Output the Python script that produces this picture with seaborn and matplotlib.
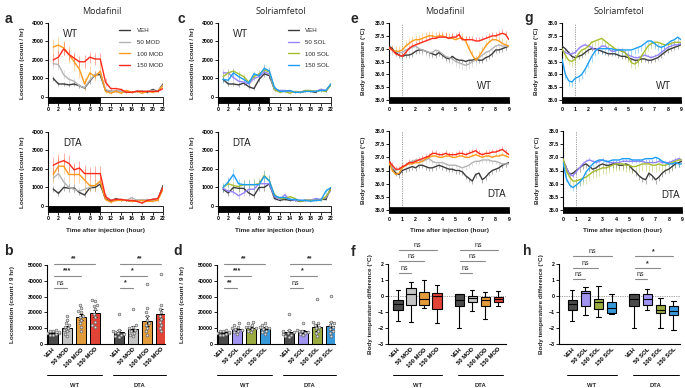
import numpy as np
import pandas as pd
import matplotlib
matplotlib.use("Agg")
import matplotlib.pyplot as plt
import matplotlib.transforms as mtrans
from matplotlib.patches import Rectangle
from matplotlib.lines import Line2D
import seaborn as sns

W, H = 685, 388

# --- 그룹 / 색 ---
MOD_GROUPS = ["VEH", "50 MOD", "100 MOD", "150 MOD"]
SOL_GROUPS = ["VEH", "50 SOL", "100 SOL", "150 SOL"]
MOD_COLORS = ["#3b3b3b", "#b3b3b3", "#ff9a1c", "#ff2a1a"]
SOL_COLORS = ["#3b3b3b", "#9585ff", "#a8bd2d", "#1d9ef5"]
MOD_BOX = ["#4a4a4a", "#c4c4c4", "#ffa11f", "#ff2a1a"]
SOL_BOX = ["#4a4a4a", "#9585ff", "#a8bd2d", "#1d9ef5"]

# --- locomotion (count / hr), hour 1..22 ---
HOURS = list(range(1, 23))
loco_mod_wt = {
    "VEH":     [1000, 700, 700, 650, 700, 600, 480, 850, 1200, 1200, 350, 300, 300, 300, 250, 250, 300, 300, 250, 400, 300, 700],
    "50 MOD":  [1800, 1750, 1200, 950, 850, 600, 500, 900, 1200, 1300, 400, 300, 300, 300, 250, 250, 300, 300, 300, 350, 300, 650],
    "100 MOD": [2700, 2800, 2650, 2300, 1900, 1500, 700, 1300, 1100, 1400, 300, 200, 300, 200, 350, 250, 300, 200, 300, 250, 300, 600],
    "150 MOD": [2000, 2150, 2600, 2300, 2100, 1900, 1900, 2150, 2050, 2050, 800, 450, 450, 400, 250, 250, 300, 300, 300, 300, 300, 450],
}
loco_mod_wt_sem = {
    "VEH":     [150, 120, 100, 100, 120, 100, 90, 150, 180, 180, 60, 40, 40, 40, 30, 30, 40, 40, 40, 60, 50, 120],
    "50 MOD":  [300, 300, 250, 200, 150, 120, 100, 200, 200, 200, 80, 50, 50, 50, 40, 40, 50, 50, 50, 60, 60, 100],
    "100 MOD": [450, 450, 400, 450, 500, 450, 300, 350, 250, 300, 80, 50, 60, 50, 80, 50, 60, 50, 60, 50, 60, 150],
    "150 MOD": [300, 350, 350, 300, 300, 300, 350, 300, 300, 300, 200, 80, 80, 80, 50, 50, 60, 60, 60, 60, 60, 100],
}
loco_mod_dta = {
    "VEH":     [910, 680, 1000, 960, 960, 730, 590, 980, 1000, 1180, 370, 250, 400, 300, 300, 250, 300, 300, 300, 350, 350, 1100],
    "50 MOD":  [1500, 1750, 1300, 1000, 900, 800, 900, 1000, 1100, 1300, 500, 300, 350, 350, 300, 450, 300, 300, 350, 300, 350, 1000],
    "100 MOD": [1700, 2150, 2150, 1700, 1700, 1700, 1400, 1100, 1100, 1350, 350, 200, 300, 300, 300, 250, 250, 300, 250, 250, 300, 900],
    "150 MOD": [2200, 2350, 2450, 2300, 1950, 2050, 1750, 1750, 1750, 1750, 500, 300, 350, 350, 300, 300, 250, 150, 300, 350, 400, 1000],
}
loco_mod_dta_sem = {
    "VEH":     [150, 150, 200, 200, 200, 150, 100, 200, 200, 200, 60, 50, 50, 50, 40, 40, 40, 40, 40, 50, 50, 200],
    "50 MOD":  [300, 300, 250, 250, 200, 200, 200, 250, 250, 250, 100, 60, 60, 60, 60, 80, 60, 60, 60, 60, 60, 200],
    "100 MOD": [400, 450, 450, 400, 500, 450, 600, 300, 300, 350, 80, 60, 60, 60, 60, 60, 60, 60, 60, 60, 60, 200],
    "150 MOD": [450, 450, 400, 450, 350, 400, 450, 350, 400, 400, 150, 80, 80, 80, 60, 60, 60, 60, 60, 60, 80, 200],
}
loco_sol_wt = {
    "VEH":     [950, 700, 700, 650, 750, 550, 450, 950, 1250, 1150, 400, 300, 300, 300, 250, 250, 300, 300, 250, 400, 300, 700],
    "50 SOL":  [1300, 1300, 1050, 850, 800, 700, 1000, 1100, 1350, 1250, 400, 350, 350, 300, 250, 250, 350, 300, 300, 400, 350, 650],
    "100 SOL": [1100, 1300, 1400, 1250, 1100, 800, 1100, 1250, 1450, 1350, 400, 250, 300, 200, 300, 250, 350, 350, 300, 350, 300, 650],
    "150 SOL": [950, 900, 1300, 1100, 950, 750, 1250, 1150, 1550, 1400, 500, 300, 300, 350, 250, 250, 300, 300, 300, 350, 350, 700],
}
loco_sol_wt_sem = {
    "VEH":     [150, 120, 100, 100, 120, 100, 90, 150, 180, 180, 60, 40, 40, 40, 30, 30, 40, 40, 40, 60, 50, 120],
    "50 SOL":  [200, 200, 200, 150, 150, 150, 150, 200, 200, 200, 80, 50, 50, 50, 40, 40, 50, 50, 50, 60, 60, 100],
    "100 SOL": [200, 200, 150, 150, 150, 150, 150, 200, 250, 200, 80, 50, 50, 50, 40, 40, 50, 50, 50, 60, 60, 100],
    "150 SOL": [200, 200, 200, 150, 150, 150, 150, 200, 250, 200, 80, 50, 50, 50, 40, 40, 50, 50, 50, 60, 60, 100],
}
loco_sol_dta = {
    "VEH":     [900, 700, 1000, 950, 950, 700, 550, 1000, 1000, 1200, 400, 300, 350, 300, 300, 250, 300, 300, 300, 350, 350, 1000],
    "50 SOL":  [950, 800, 750, 550, 700, 900, 900, 1200, 1200, 1200, 500, 350, 600, 350, 300, 300, 300, 300, 400, 350, 450, 850],
    "100 SOL": [1000, 1200, 1100, 1050, 1150, 1150, 1150, 1200, 1650, 1350, 600, 400, 400, 500, 400, 250, 300, 300, 300, 300, 500, 900],
    "150 SOL": [1000, 1300, 1700, 1200, 1150, 1150, 1150, 1150, 1600, 1350, 550, 450, 450, 350, 350, 300, 300, 250, 300, 300, 800, 1000],
}
loco_sol_dta_sem = {
    "VEH":     [150, 150, 200, 200, 200, 150, 100, 200, 200, 200, 60, 50, 50, 50, 40, 40, 40, 40, 40, 50, 50, 200],
    "50 SOL":  [200, 150, 150, 150, 150, 200, 200, 200, 200, 200, 80, 60, 100, 60, 60, 60, 60, 60, 60, 60, 80, 150],
    "100 SOL": [250, 250, 250, 250, 300, 300, 350, 300, 300, 300, 100, 80, 80, 100, 80, 60, 60, 60, 60, 60, 100, 150],
    "150 SOL": [250, 250, 300, 250, 250, 250, 250, 250, 300, 300, 100, 80, 80, 80, 60, 60, 60, 60, 60, 60, 150, 150],
}

# --- body temperature (°C), 0..9 h every 15 min ---
TEMP_T = np.arange(0, 9.01, 0.25)
temp_mod_wt = {
    "VEH": [37.1, 37.0, 36.85, 36.75, 36.7, 36.75, 36.75, 36.8, 36.9, 36.95, 36.95, 36.9,
            36.85, 36.8, 36.75, 36.85, 36.75, 36.65, 36.6, 36.7, 36.6, 36.55, 36.55, 36.5,
            36.55, 36.55, 36.6, 36.55, 36.55, 36.65, 36.7, 36.8, 36.95, 36.95, 37.0, 37.05, 37.1],
    "50 MOD": [37.0, 36.95, 36.9, 36.85, 36.85, 36.95, 37.0, 37.05, 37.1, 37.0, 36.95, 36.9,
               36.85, 36.85, 36.95, 36.9, 36.8, 36.7, 36.65, 36.6, 36.5, 36.45, 36.4, 36.35,
               36.4, 36.5, 36.55, 36.65, 36.75, 36.85, 36.9, 37.0, 37.1, 37.15, 37.1, 37.1, 37.1],
    "100 MOD": [37.0, 36.95, 36.9, 36.9, 36.95, 37.1, 37.2, 37.3, 37.35, 37.35, 37.4, 37.45,
                37.5, 37.5, 37.45, 37.5, 37.5, 37.45, 37.4, 37.4, 37.35, 37.4, 37.4, 37.3,
                37.0, 36.75, 36.55, 36.7, 36.9, 37.1, 37.25, 37.35, 37.35, 37.3, 37.2, 37.15, 37.1],
    "150 MOD": [37.05, 36.95, 36.8, 36.75, 36.7, 36.85, 37.0, 37.1, 37.15, 37.2, 37.25, 37.3,
                37.35, 37.4, 37.4, 37.45, 37.45, 37.45, 37.4, 37.45, 37.45, 37.55, 37.35, 37.35,
                37.35, 37.35, 37.3, 37.3, 37.35, 37.4, 37.45, 37.5, 37.5, 37.55, 37.6, 37.55, 37.35],
}
temp_mod_dta = {
    "VEH": [36.9, 36.6, 36.4, 36.35, 36.5, 36.55, 36.6, 36.65, 36.6, 36.7, 36.7, 36.65,
            36.6, 36.6, 36.65, 36.7, 36.65, 36.6, 36.55, 36.55, 36.5, 36.5, 36.45, 36.3,
            36.2, 36.1, 36.35, 36.4, 36.15, 36.25, 36.4, 36.5, 36.55, 36.6, 36.7, 36.75, 36.8],
    "50 MOD": [36.8, 36.6, 36.5, 36.55, 36.6, 36.7, 36.8, 36.85, 36.9, 36.9, 36.85, 36.9,
               36.95, 36.85, 36.8, 36.8, 36.8, 36.75, 36.7, 36.7, 36.7, 36.65, 36.6, 36.65,
               36.7, 36.8, 36.85, 36.85, 36.9, 36.9, 36.9, 36.85, 36.85, 36.8, 36.75, 36.75, 36.75],
    "100 MOD": [36.8, 36.5, 36.35, 36.4, 36.6, 36.7, 36.75, 36.75, 36.8, 36.8, 36.85, 36.95,
                37.0, 37.05, 37.05, 37.0, 37.0, 37.05, 37.05, 37.0, 37.0, 37.05, 37.05, 37.0,
                37.0, 37.05, 37.1, 37.05, 37.0, 37.05, 37.05, 37.0, 37.05, 37.05, 37.1, 37.05, 37.0],
    "150 MOD": [36.85, 36.7, 36.55, 36.55, 36.65, 36.7, 36.8, 36.8, 36.85, 36.9, 36.95, 37.0,
                37.05, 37.15, 37.15, 37.1, 37.1, 37.15, 37.1, 37.1, 37.1, 37.15, 37.15, 37.1,
                37.15, 37.2, 37.25, 37.15, 37.1, 37.15, 37.15, 37.2, 37.2, 37.25, 37.3, 37.2, 37.1],
}
temp_sol_wt = {
    "VEH": [37.1, 37.0, 36.85, 36.7, 36.65, 36.7, 36.75, 36.85, 36.95, 37.0, 37.0, 36.95,
            36.9, 36.85, 36.8, 36.8, 36.8, 36.75, 36.7, 36.7, 36.65, 36.6, 36.55, 36.55,
            36.6, 36.6, 36.55, 36.55, 36.6, 36.65, 36.75, 36.85, 36.95, 37.0, 37.05, 37.1, 37.15],
    "50 SOL": [36.95, 36.85, 36.8, 36.8, 36.85, 37.0, 37.1, 37.15, 37.1, 37.05, 36.95, 37.0,
               37.1, 37.1, 37.0, 36.9, 36.9, 36.95, 36.95, 36.85, 36.75, 36.7, 36.65, 36.65,
               36.7, 36.75, 36.7, 36.65, 36.7, 36.75, 36.85, 36.95, 37.05, 37.1, 37.15, 37.15, 37.2],
    "100 SOL": [37.0, 36.75, 36.55, 36.5, 36.6, 36.8, 36.95, 37.0, 37.1, 37.25, 37.3, 37.35,
                37.4, 37.3, 37.2, 37.1, 37.0, 36.95, 36.9, 36.85, 36.7, 36.45, 36.4, 36.5,
                36.7, 36.9, 37.1, 37.2, 37.25, 37.25, 37.2, 37.15, 37.15, 37.2, 37.25, 37.25, 37.25],
    "150 SOL": [36.6, 36.0, 35.75, 35.7, 35.85, 35.9, 36.0, 36.2, 36.45, 36.7, 36.9, 37.0,
                37.0, 37.0, 37.0, 37.0, 36.95, 36.95, 36.95, 36.95, 36.95, 36.95, 37.0, 37.05,
                37.1, 37.2, 37.3, 37.3, 37.2, 37.1, 37.05, 37.1, 37.2, 37.3, 37.35, 37.45, 37.35],
}
temp_sol_dta = {
    "VEH": [36.9, 36.6, 36.35, 36.4, 36.5, 36.6, 36.7, 36.75, 36.65, 36.55, 36.6, 36.7,
            36.75, 36.7, 36.7, 36.75, 36.75, 36.7, 36.7, 36.75, 36.7, 36.55, 36.45, 36.3,
            36.2, 36.15, 36.4, 36.3, 36.15, 36.25, 36.4, 36.5, 36.55, 36.65, 36.75, 36.8, 36.85],
    "50 SOL": [36.9, 36.6, 36.35, 36.3, 36.45, 36.6, 36.75, 36.85, 36.9, 36.85, 36.8, 36.85,
               36.9, 36.85, 36.8, 36.8, 36.8, 36.8, 36.85, 36.85, 36.85, 36.85, 36.85, 36.85,
               36.85, 36.8, 36.8, 36.8, 36.8, 36.85, 36.8, 36.8, 36.8, 36.85, 36.9, 36.95, 36.9],
    "100 SOL": [36.95, 36.5, 36.25, 36.1, 36.1, 36.15, 36.2, 36.25, 36.35, 36.45, 36.5, 36.55,
                36.6, 36.6, 36.65, 36.7, 36.75, 36.75, 36.75, 36.7, 36.7, 36.65, 36.65, 36.7,
                36.75, 36.75, 36.75, 36.7, 36.7, 36.75, 36.7, 36.7, 36.75, 36.8, 36.85, 36.9, 36.9],
    "150 SOL": [36.8, 36.2, 35.95, 35.85, 35.95, 36.05, 36.2, 36.45, 36.6, 36.75, 36.85, 36.9,
                36.9, 36.85, 36.85, 36.9, 36.9, 36.9, 36.95, 36.95, 36.95, 36.9, 36.9, 36.9,
                36.9, 36.95, 36.95, 36.95, 37.0, 36.95, 36.85, 36.8, 36.75, 36.75, 36.8, 36.75, 36.75],
}
# SEM (one value per series) and which side the error bar is drawn on
temp_mod_wt_sem, temp_mod_wt_side = [0.12, 0.2, 0.2, 0.15], [-1, -1, 1, 1]
temp_mod_dta_sem, temp_mod_dta_side = [0.12, 0.12, 0.1, 0.12], [-1, -1, 1, 1]
temp_sol_wt_sem, temp_sol_wt_side = [0.1, 0.1, 0.2, 0.2], [-1, 1, -1, -1]
temp_sol_dta_sem, temp_sol_dta_side = [0.15, 0.1, 0.25, 0.12], [-1, 1, -1, -1]

# --- locomotion totals (count / 9 hr): WT x4, DTA x4 ---
POS = [0, 1, 2, 3, 4.7, 5.7, 6.7, 7.7]
bar_mod_mean = [7200, 10000, 17000, 19500, 7500, 9800, 14500, 18800]
bar_mod_sem = [600, 1500, 2000, 2300, 1200, 1600, 3000, 3200]
bar_mod_pts = [
    [5500, 6000, 6500, 6800, 7000, 7200, 7500, 8000, 8500, 9000],
    [5000, 6500, 8000, 9000, 10000, 11000, 12000, 13000, 15000, 17500],
    [8500, 11000, 13000, 15000, 17000, 18000, 20000, 21000, 23000, 25000],
    [11000, 12000, 14000, 17000, 19000, 22000, 24000, 25000, 27000, 28000],
    [4500, 5000, 6000, 6500, 7000, 7500, 8000, 9000, 19000],
    [5000, 6000, 7000, 8500, 9000, 10000, 11000, 12000, 22000],
    [6000, 8000, 10000, 12000, 13000, 15000, 18000, 20000, 23000, 38000],
    [8000, 10000, 12000, 14000, 16000, 18000, 20000, 22000, 25000, 44000],
]
bar_sol_mean = [7300, 9300, 10300, 9800, 7600, 8000, 10500, 11200]
bar_sol_sem = [600, 800, 700, 800, 1200, 900, 2200, 2500]
bar_sol_pts = [
    [5500, 6000, 6500, 6800, 7000, 7200, 7500, 8000, 8500, 9000],
    [6500, 7500, 8500, 9000, 9500, 10000, 11000, 12000, 13000],
    [7500, 8500, 9500, 10000, 10500, 11000, 12000, 13000, 14000],
    [6500, 7500, 8500, 9500, 10000, 10500, 11000, 12000, 13500],
    [4500, 5000, 6000, 6500, 7000, 7500, 8000, 9000, 19000],
    [5500, 6500, 7000, 7500, 8000, 8500, 9000, 13500],
    [5000, 7000, 8500, 10000, 11000, 12000, 13000, 14000, 28500],
    [5000, 7000, 8000, 9500, 11000, 12000, 13000, 14000, 30500],
]
bar_mod_sig = [(0, 3, 50600, "**"), (0, 2, 43000, "***"), (0, 1, 35400, "ns"),
               (4.7, 7.7, 50600, "**"), (4.7, 6.7, 43000, "*"), (4.7, 5.7, 35400, "*")]
bar_sol_sig = [(0, 3, 50600, "**"), (0, 2, 43000, "***"), (0, 1, 35400, "**"),
               (4.7, 7.7, 50600, "**"), (4.7, 6.7, 43000, "*"), (4.7, 5.7, 35400, "ns")]

# --- temperature difference boxes: [min, q1, median, q3, max] ---
box_mod = [
    [-1.55, -0.85, -0.5, -0.25, 0.4],
    [-1.65, -0.55, 0.15, 0.5, 0.88],
    [-0.75, -0.55, -0.2, 0.25, 1.0],
    [-1.7, -0.8, 0.0, 0.2, 0.7],
    [-2.0, -0.6, -0.25, 0.1, 0.15],
    [-0.95, -0.35, -0.15, 0.0, 0.35],
    [-1.45, -0.6, -0.25, -0.05, 0.25],
    [-0.65, -0.35, -0.2, -0.05, 0.3],
]
box_sol = [
    [-1.55, -0.85, -0.5, -0.25, 0.4],
    [-1.2, -0.6, 0.2, 0.3, 0.55],
    [-1.3, -0.8, -0.4, -0.2, 0.65],
    [-1.15, -1.05, -0.75, -0.4, 0.1],
    [-2.0, -0.6, -0.2, 0.1, 0.15],
    [-0.9, -0.55, -0.2, 0.15, 0.45],
    [-2.0, -1.05, -0.85, -0.55, -0.15],
    [-2.15, -1.2, -0.95, -0.65, -0.3],
]
box_mod_sig = [(0, 3, 2.87, "ns"), (0, 2, 2.19, "ns"), (0, 1, 1.44, "ns"),
               (4.7, 7.7, 2.87, "ns"), (4.7, 6.7, 2.19, "ns"), (4.7, 5.7, 1.44, "ns")]
box_sol_sig = [(0, 3, 2.5, "ns"), (0, 2, 1.75, "ns"), (0, 1, 1.06, "ns"),
               (4.7, 7.7, 2.5, "*"), (4.7, 6.7, 1.75, "*"), (4.7, 5.7, 1.06, "ns")]

# --- 스타일 ---
sns.set_style("ticks")
plt.rcParams["font.family"] = ["Liberation Sans", "DejaVu Sans"]
plt.rcParams["font.weight"] = "bold"
plt.rcParams["axes.labelweight"] = "bold"
TICK_FS = 3.8
LAB_FS = 4.6

fig = plt.figure(figsize=(W / 100, H / 100), dpi=100)


def px_axes(left, top, width, height):
    return fig.add_axes([left / W, 1 - (top + height) / H, width / W, height / H])


def ftext(x, y, s, **kw):
    fig.text(x / W, 1 - y / H, s, **kw)


def base_style(ax):
    sns.despine(ax=ax)
    for sp in ("left", "bottom"):
        ax.spines[sp].set_linewidth(0.8)
        ax.spines[sp].set_color("black")
    ax.tick_params(length=2, width=0.6, labelsize=TICK_FS, pad=1, colors="black")


def draw_loco(ax, data, sems, groups, colors, tag, show_xlabel):
    rows = [(g, h, v) for g in groups for h, v in zip(HOURS, data[g])]
    df = pd.DataFrame(rows, columns=["group", "hour", "count"])
    for g, c in zip(groups, colors):
        ax.errorbar(HOURS, data[g], yerr=sems[g], fmt="none", ecolor=c,
                    elinewidth=0.6, alpha=0.45, zorder=2)
    sns.lineplot(data=df, x="hour", y="count", hue="group", hue_order=groups,
                 palette=colors, linewidth=1.0, legend=False, ax=ax, zorder=3)
    ax.set_xlim(0, 22)
    ax.set_ylim(-330, 4000)
    ax.set_xticks(range(0, 23, 2))
    ax.set_yticks(range(0, 4001, 1000))
    base_style(ax)
    ax.spines["bottom"].set_visible(False)
    # 명암 주기 바
    ax.add_patch(Rectangle((0, -330), 10, 300, facecolor="black", edgecolor="black",
                           lw=0.6, clip_on=False, zorder=4))
    ax.add_patch(Rectangle((10, -330), 12, 300, facecolor="white", edgecolor="black",
                           lw=0.6, clip_on=False, zorder=4))
    ax.set_ylabel("Locomotion (count / hr)", fontsize=LAB_FS)
    ax.yaxis.set_label_coords(-0.2, 0.5)
    if show_xlabel:
        ax.set_xlabel("Time after injection (hour)", fontsize=LAB_FS)
        ax.xaxis.set_label_coords(0.5, -0.2)
    else:
        ax.set_xlabel("")
    ax.text(0.13, 0.93, tag, transform=ax.transAxes, fontsize=7, weight="normal",
            ha="left", va="top")


def draw_temp(ax, data, sem, side, groups, colors, tag, show_xlabel):
    rows = [(g, t, v) for g in groups for t, v in zip(TEMP_T, data[g])]
    df = pd.DataFrame(rows, columns=["group", "time", "temp"])
    for g, c, s, sd in zip(groups, colors, sem, side):
        err = np.full(len(TEMP_T), s)
        zero = np.zeros(len(TEMP_T))
        yerr = [zero, err] if sd > 0 else [err, zero]
        ax.errorbar(TEMP_T, data[g], yerr=yerr, fmt="none", ecolor=c,
                    elinewidth=0.6, alpha=0.45, zorder=2)
    sns.lineplot(data=df, x="time", y="temp", hue="group", hue_order=groups,
                 palette=colors, linewidth=1.0, legend=False, ax=ax, zorder=3)
    ax.axvline(1, color="#9a9a9a", lw=0.7, ls=(0, (1.2, 1.2)), zorder=1)
    ax.set_xlim(0, 9)
    ax.set_ylim(35, 38)
    ax.set_xticks(range(0, 10))
    ax.set_yticks(np.arange(35, 38.01, 0.5))
    ax.yaxis.set_major_formatter(matplotlib.ticker.FormatStrFormatter("%.1f"))
    base_style(ax)
    ax.spines["bottom"].set_visible(False)
    ax.tick_params(axis="x", pad=3)
    ax.add_patch(Rectangle((0, -0.04), 9, 0.08, transform=mtrans.blended_transform_factory(
        ax.transData, ax.transAxes), facecolor="black", edgecolor="black", lw=0.5,
        clip_on=False, zorder=4))
    ax.set_ylabel("Body temperature (°C)", fontsize=LAB_FS)
    ax.yaxis.set_label_coords(-0.19, 0.5)
    if show_xlabel:
        ax.set_xlabel("Time after injection (hour)", fontsize=LAB_FS)
        ax.xaxis.set_label_coords(0.5, -0.23)
    else:
        ax.set_xlabel("")


def add_legend(ax, groups, colors, anchor):
    handles = [Line2D([0], [0], color=c, lw=1.0) for c in colors]
    ax.legend(handles, groups, loc="upper left", bbox_to_anchor=anchor, frameon=False,
              fontsize=4.4, handlelength=1.8, handletextpad=1.0, labelspacing=1.05,
              borderaxespad=0, prop={"weight": "normal", "size": 4.4})


def draw_sig(ax, sig_list, off):
    for x0, x1, y, txt in sig_list:
        ax.plot([x0 + 0.05, x1], [y, y], color="#8a8a8a", lw=0.8, clip_on=False)
        ax.text((x0 + x1) / 2, y + off, txt, ha="center", va="bottom", fontsize=5,
                weight="normal" if txt == "ns" else "bold", clip_on=False)


def group_labels(ax, spans, yl, yt):
    tr = mtrans.blended_transform_factory(ax.transData, ax.transAxes)
    for (x0, x1), lab in zip(spans, ["WT", "DTA"]):
        ax.plot([x0, x1], [yl, yl], transform=tr, color="black", lw=0.7, clip_on=False)
        ax.text((x0 + x1) / 2, yt, lab, transform=tr, ha="center", va="center",
                fontsize=4.2, weight="bold")


def categorical_ticks(ax, groups):
    ax.set_xticks(POS)
    ax.set_xticklabels(groups + groups, rotation=45, ha="right", rotation_mode="anchor",
                       fontsize=4.2)
    ax.tick_params(axis="x", length=0, pad=2)


def draw_bars(ax, groups, colors, means, sems, pts, sig_list):
    pal = dict(zip(groups, colors))
    bar_df = pd.DataFrame({"pos": POS, "mean": means, "label": groups + groups})
    sns.barplot(data=bar_df, x="pos", y="mean", hue="label", palette=pal, native_scale=True,
                dodge=False, width=0.68, edgecolor="black", linewidth=0.7, errorbar=None,
                legend=False, ax=ax)
    ax.errorbar(POS, means, yerr=sems, fmt="none", ecolor="black", elinewidth=0.7,
                capsize=1.6, capthick=0.7, zorder=4)
    rows = [(p, v) for p, vals in zip(POS, pts) for v in vals]
    pdf = pd.DataFrame(rows, columns=["pos", "value"])
    sns.swarmplot(data=pdf, x="pos", y="value", native_scale=True, size=2.0,
                  color="#dcdcdc", edgecolor="#555555", linewidth=0.4, ax=ax, zorder=5)
    ax.set_ylim(0, 50000)
    ax.set_xlim(-0.43, 8.0)
    ax.set_yticks(range(0, 50001, 10000))
    base_style(ax)
    categorical_ticks(ax, groups)
    ax.set_xlabel("")
    ax.set_ylabel("Locomotion (count / 9 hr)", fontsize=LAB_FS)
    ax.yaxis.set_label_coords(-0.27, 0.5)
    draw_sig(ax, sig_list, 900)
    group_labels(ax, [(-0.4, 3.5), (4.3, 8.1)], -0.39, -0.52)


def draw_boxes(ax, groups, colors, stats, xlim, sig_list, ylab_x):
    pal = dict(zip(groups, colors))
    rows = [(p, lab, v) for p, lab, vals in zip(POS, groups + groups, stats) for v in vals]
    df = pd.DataFrame(rows, columns=["pos", "label", "value"])
    ax.axhline(0, color="#9a9a9a", lw=0.7, ls=(0, (1.2, 1.2)), zorder=0)
    sns.boxplot(data=df, x="pos", y="value", hue="label", palette=pal, native_scale=True,
                dodge=False, whis=(0, 100), width=0.7, linewidth=0.8, linecolor="black",
                showfliers=False, legend=False, ax=ax)
    ax.set_ylim(-3, 2)
    ax.set_xlim(*xlim)
    ax.set_yticks(range(-3, 3))
    base_style(ax)
    categorical_ticks(ax, groups)
    ax.set_xlabel("")
    ax.set_ylabel("Body temperature difference (°C)", fontsize=LAB_FS)
    ax.yaxis.set_label_coords(ylab_x, 0.5)
    draw_sig(ax, sig_list, 0.06)
    group_labels(ax, [(-0.4, 3.4), (4.6, 8.1)], -0.39, -0.52)


# --- panels a, c (locomotion time course) ---
ax = px_axes(48, 23, 115, 80)
draw_loco(ax, loco_mod_wt, loco_mod_wt_sem, MOD_GROUPS, MOD_COLORS, "WT", False)
add_legend(ax, MOD_GROUPS, MOD_COLORS, (0.6, 0.97))
ax = px_axes(48, 132, 115, 80)
draw_loco(ax, loco_mod_dta, loco_mod_dta_sem, MOD_GROUPS, MOD_COLORS, "DTA", True)

ax = px_axes(218, 23, 113, 80)
draw_loco(ax, loco_sol_wt, loco_sol_wt_sem, SOL_GROUPS, SOL_COLORS, "WT", False)
add_legend(ax, SOL_GROUPS, SOL_COLORS, (0.6, 0.97))
ax = px_axes(218, 132, 113, 80)
draw_loco(ax, loco_sol_dta, loco_sol_dta_sem, SOL_GROUPS, SOL_COLORS, "DTA", True)

# --- panels e, g (body temperature) ---
ax = px_axes(389, 23, 120, 77)
draw_temp(ax, temp_mod_wt, temp_mod_wt_sem, temp_mod_wt_side, MOD_GROUPS, MOD_COLORS, "WT", False)
ftext(485, 86, "WT", fontsize=7, weight="normal", ha="center", va="center")
ax = px_axes(389, 131, 120, 79)
draw_temp(ax, temp_mod_dta, temp_mod_dta_sem, temp_mod_dta_side, MOD_GROUPS, MOD_COLORS, "DTA", True)
ftext(497, 194, "DTA", fontsize=7, weight="normal", ha="center", va="center")

ax = px_axes(562, 23, 119, 77)
draw_temp(ax, temp_sol_wt, temp_sol_wt_sem, temp_sol_wt_side, SOL_GROUPS, SOL_COLORS, "WT", False)
ftext(664, 86, "WT", fontsize=7, weight="normal", ha="center", va="center")
ax = px_axes(563, 131, 119, 79)
draw_temp(ax, temp_sol_dta, temp_sol_dta_sem, temp_sol_dta_side, SOL_GROUPS, SOL_COLORS, "DTA", True)
ftext(671, 195, "DTA", fontsize=7, weight="normal", ha="center", va="center")

# --- panels b, d (bars) ---
ax = px_axes(47, 265, 118, 79)
draw_bars(ax, MOD_GROUPS, MOD_BOX, bar_mod_mean, bar_mod_sem, bar_mod_pts, bar_mod_sig)
ax = px_axes(217, 265, 118, 79)
draw_bars(ax, SOL_GROUPS, SOL_BOX, bar_sol_mean, bar_sol_sem, bar_sol_pts, bar_sol_sig)

# --- panels f, h (boxes) ---
ax = px_axes(388, 264, 118, 80)
draw_boxes(ax, MOD_GROUPS, MOD_BOX, box_mod, (-0.77, 8.3), box_mod_sig, -0.13)
ax = px_axes(559, 264, 121, 80)
draw_boxes(ax, SOL_GROUPS, SOL_BOX, box_sol, (-1.0, 8.2), box_sol_sig, -0.12)

# --- titles and panel letters ---
for x, s in [(102, "Modafinil"), (281, "Solriamfetol"), (445, "Modafinil"), (619, "Solriamfetol")]:
    ftext(x, 11, s, fontsize=6.5, weight="normal", family=["Open Sans", "DejaVu Sans"],
          ha="center", va="center")
for x, y, s in [(8, 19, "a"), (181, 19, "c"), (354, 19, "e"), (529, 18, "g"),
                (8, 251, "b"), (178, 251, "d"), (353, 252, "f"), (527, 251, "h")]:
    ftext(x, y, s, fontsize=10, weight="bold", ha="center", va="center")

fig.savefig("out.png", dpi=100)
